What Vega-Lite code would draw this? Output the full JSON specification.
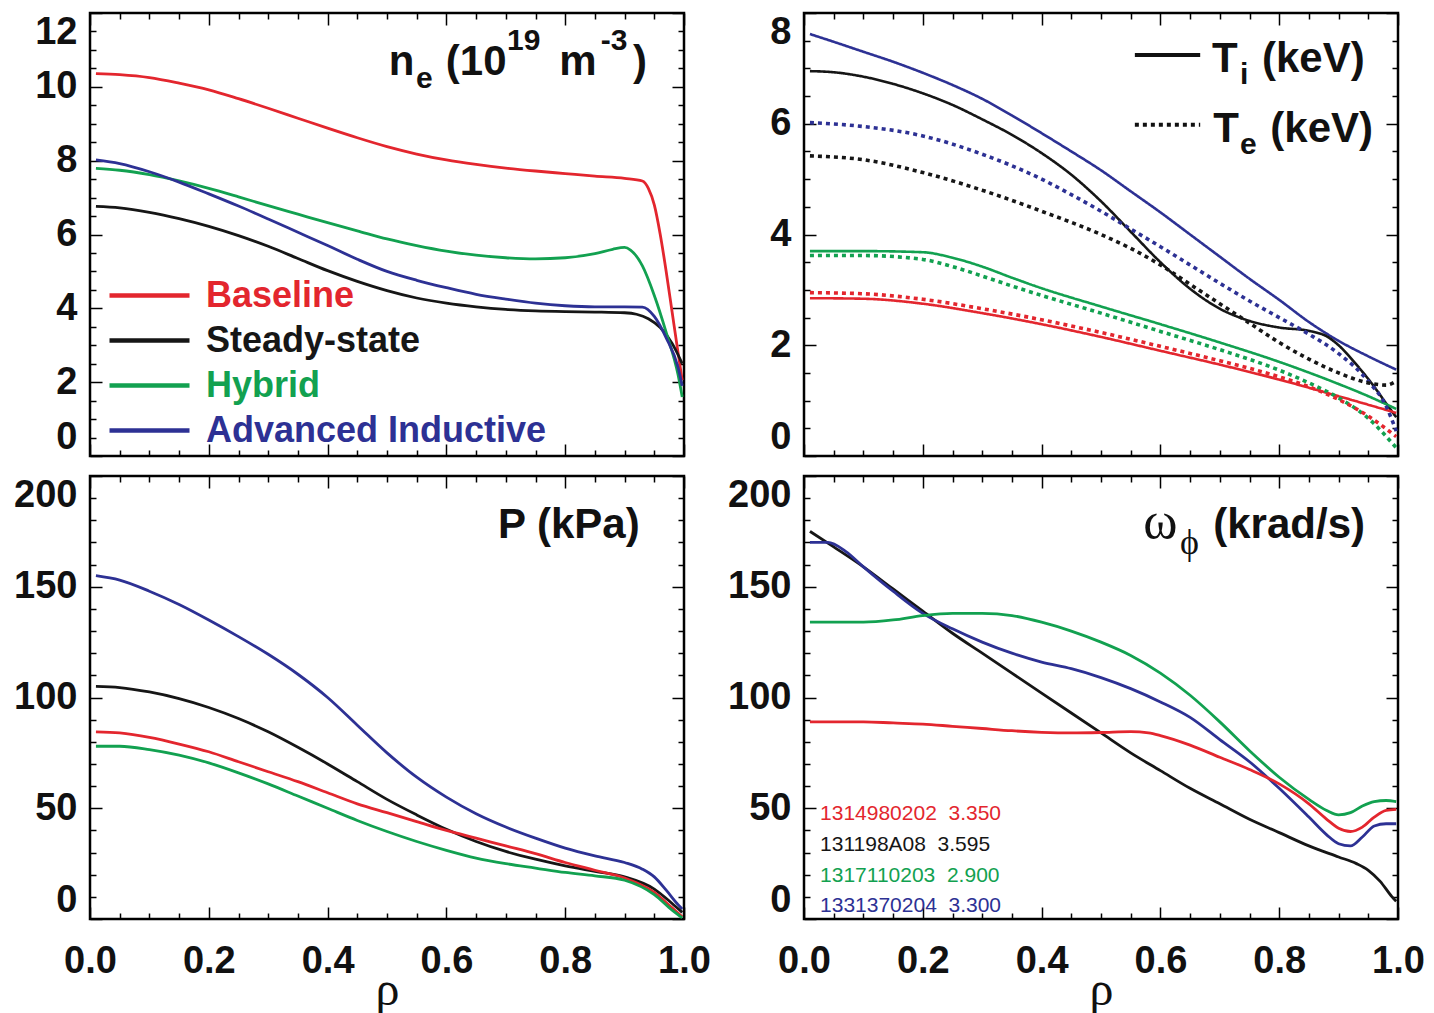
{
"$schema": "https://vega.github.io/schema/vega-lite/v6.json",
"background": "white",
"padding": {"left": 12, "top": 11, "right": 5, "bottom": 0},
"columns": 2,
"spacing": {"row": 16, "column": 14},
"resolve": {"legend": {"color": "independent"}},
"config": {
  "view": {"stroke": "#000", "strokeWidth": 2.5},
  "axis": {"domain": false, "grid": false, "tickColor": "#000", "tickWidth": 1.5, "labelFont": "Liberation Sans, Arial, sans-serif", "labelFontSize": 38, "labelFontWeight": "bold", "labelColor": "#111", "labelOverlap": false, "labelBound": false}
},
"concat": [
{
  "width": 594, "height": 443,
  "resolve": {"axis": {"x": "independent", "y": "independent"}},
  "layer": [
    {
      "data": {"values": [
        {"rho":0.01,"ne":10.36,"s":"Baseline"},{"rho":0.05,"ne":10.33,"s":"Baseline"},{"rho":0.1,"ne":10.25,"s":"Baseline"},{"rho":0.15,"ne":10.1,"s":"Baseline"},{"rho":0.2,"ne":9.92,"s":"Baseline"},{"rho":0.25,"ne":9.68,"s":"Baseline"},{"rho":0.3,"ne":9.42,"s":"Baseline"},{"rho":0.35,"ne":9.15,"s":"Baseline"},{"rho":0.4,"ne":8.88,"s":"Baseline"},{"rho":0.45,"ne":8.62,"s":"Baseline"},{"rho":0.5,"ne":8.38,"s":"Baseline"},{"rho":0.55,"ne":8.18,"s":"Baseline"},{"rho":0.6,"ne":8.02,"s":"Baseline"},{"rho":0.65,"ne":7.9,"s":"Baseline"},{"rho":0.7,"ne":7.8,"s":"Baseline"},{"rho":0.75,"ne":7.72,"s":"Baseline"},{"rho":0.8,"ne":7.65,"s":"Baseline"},{"rho":0.85,"ne":7.58,"s":"Baseline"},{"rho":0.9,"ne":7.52,"s":"Baseline"},{"rho":0.93,"ne":7.45,"s":"Baseline"},{"rho":0.94,"ne":7.25,"s":"Baseline"},{"rho":0.95,"ne":6.8,"s":"Baseline"},{"rho":0.96,"ne":6.0,"s":"Baseline"},{"rho":0.97,"ne":5.0,"s":"Baseline"},{"rho":0.98,"ne":3.9,"s":"Baseline"},{"rho":0.99,"ne":2.8,"s":"Baseline"},{"rho":0.997,"ne":2.05,"s":"Baseline"},
        {"rho":0.01,"ne":6.76,"s":"Steady-state"},{"rho":0.05,"ne":6.72,"s":"Steady-state"},{"rho":0.1,"ne":6.6,"s":"Steady-state"},{"rho":0.15,"ne":6.43,"s":"Steady-state"},{"rho":0.2,"ne":6.22,"s":"Steady-state"},{"rho":0.25,"ne":5.97,"s":"Steady-state"},{"rho":0.3,"ne":5.68,"s":"Steady-state"},{"rho":0.35,"ne":5.35,"s":"Steady-state"},{"rho":0.4,"ne":5.02,"s":"Steady-state"},{"rho":0.45,"ne":4.73,"s":"Steady-state"},{"rho":0.5,"ne":4.48,"s":"Steady-state"},{"rho":0.55,"ne":4.28,"s":"Steady-state"},{"rho":0.6,"ne":4.14,"s":"Steady-state"},{"rho":0.65,"ne":4.04,"s":"Steady-state"},{"rho":0.7,"ne":3.97,"s":"Steady-state"},{"rho":0.75,"ne":3.93,"s":"Steady-state"},{"rho":0.8,"ne":3.91,"s":"Steady-state"},{"rho":0.85,"ne":3.9,"s":"Steady-state"},{"rho":0.9,"ne":3.88,"s":"Steady-state"},{"rho":0.92,"ne":3.84,"s":"Steady-state"},{"rho":0.94,"ne":3.72,"s":"Steady-state"},{"rho":0.96,"ne":3.48,"s":"Steady-state"},{"rho":0.98,"ne":3.05,"s":"Steady-state"},{"rho":0.997,"ne":2.5,"s":"Steady-state"},
        {"rho":0.01,"ne":7.79,"s":"Hybrid"},{"rho":0.05,"ne":7.74,"s":"Hybrid"},{"rho":0.1,"ne":7.62,"s":"Hybrid"},{"rho":0.15,"ne":7.45,"s":"Hybrid"},{"rho":0.2,"ne":7.25,"s":"Hybrid"},{"rho":0.25,"ne":7.02,"s":"Hybrid"},{"rho":0.3,"ne":6.78,"s":"Hybrid"},{"rho":0.35,"ne":6.55,"s":"Hybrid"},{"rho":0.4,"ne":6.32,"s":"Hybrid"},{"rho":0.45,"ne":6.1,"s":"Hybrid"},{"rho":0.5,"ne":5.88,"s":"Hybrid"},{"rho":0.55,"ne":5.7,"s":"Hybrid"},{"rho":0.6,"ne":5.55,"s":"Hybrid"},{"rho":0.65,"ne":5.44,"s":"Hybrid"},{"rho":0.7,"ne":5.37,"s":"Hybrid"},{"rho":0.75,"ne":5.34,"s":"Hybrid"},{"rho":0.8,"ne":5.37,"s":"Hybrid"},{"rho":0.85,"ne":5.48,"s":"Hybrid"},{"rho":0.88,"ne":5.6,"s":"Hybrid"},{"rho":0.9,"ne":5.65,"s":"Hybrid"},{"rho":0.91,"ne":5.58,"s":"Hybrid"},{"rho":0.93,"ne":5.15,"s":"Hybrid"},{"rho":0.95,"ne":4.35,"s":"Hybrid"},{"rho":0.97,"ne":3.35,"s":"Hybrid"},{"rho":0.99,"ne":2.2,"s":"Hybrid"},{"rho":0.997,"ne":1.6,"s":"Hybrid"},
        {"rho":0.01,"ne":8.02,"s":"Advanced Inductive"},{"rho":0.05,"ne":7.92,"s":"Advanced Inductive"},{"rho":0.1,"ne":7.7,"s":"Advanced Inductive"},{"rho":0.15,"ne":7.42,"s":"Advanced Inductive"},{"rho":0.2,"ne":7.1,"s":"Advanced Inductive"},{"rho":0.25,"ne":6.77,"s":"Advanced Inductive"},{"rho":0.3,"ne":6.42,"s":"Advanced Inductive"},{"rho":0.35,"ne":6.06,"s":"Advanced Inductive"},{"rho":0.4,"ne":5.7,"s":"Advanced Inductive"},{"rho":0.45,"ne":5.33,"s":"Advanced Inductive"},{"rho":0.5,"ne":5.0,"s":"Advanced Inductive"},{"rho":0.55,"ne":4.76,"s":"Advanced Inductive"},{"rho":0.6,"ne":4.56,"s":"Advanced Inductive"},{"rho":0.65,"ne":4.38,"s":"Advanced Inductive"},{"rho":0.7,"ne":4.25,"s":"Advanced Inductive"},{"rho":0.75,"ne":4.14,"s":"Advanced Inductive"},{"rho":0.8,"ne":4.07,"s":"Advanced Inductive"},{"rho":0.85,"ne":4.04,"s":"Advanced Inductive"},{"rho":0.9,"ne":4.04,"s":"Advanced Inductive"},{"rho":0.93,"ne":4.03,"s":"Advanced Inductive"},{"rho":0.95,"ne":3.78,"s":"Advanced Inductive"},{"rho":0.97,"ne":3.2,"s":"Advanced Inductive"},{"rho":0.99,"ne":2.4,"s":"Advanced Inductive"},{"rho":0.997,"ne":1.9,"s":"Advanced Inductive"}
      ]},
      "mark": {"type": "line", "interpolate": "monotone", "strokeWidth": 2.8},
      "encoding": {
        "x": {"field": "rho", "type": "quantitative", "scale": {"domain": [0, 1], "nice": false, "zero": false},
              "axis": {"orient": "bottom", "values": [0,0.05,0.1,0.15,0.2,0.25,0.3,0.35,0.4,0.45,0.5,0.55,0.6,0.65,0.7,0.75,0.8,0.85,0.9,0.95,1], "labels": false, "title": null,
                       "tickSize": {"condition": {"test": "abs(datum.value*5-round(datum.value*5))<0.001", "value": -12}, "value": -6}}},
        "y": {"field": "ne", "type": "quantitative", "scale": {"domain": [0, 12], "nice": false},
              "axis": {"orient": "left", "values": [0,0.5,1,1.5,2,2.5,3,3.5,4,4.5,5,5.5,6,6.5,7,7.5,8,8.5,9,9.5,10,10.5,11,11.5,12], "title": null, "labelFlush": true, "labelPadding": 25,
                       "labelExpr": "datum.value % 2 === 0 ? format(datum.value, 'd') : ''",
                       "tickSize": {"condition": {"test": "datum.value % 2 === 0", "value": -12}, "value": -6}}},
        "color": {"field": "s", "type": "nominal",
                  "scale": {"domain": ["Baseline", "Steady-state", "Hybrid", "Advanced Inductive"], "range": ["#e3262e", "#161616", "#12a150", "#2d3194"]},
                  "legend": {"orient": "none", "legendX": 37, "legendY": 260, "title": null, "padding": 0,
                             "symbolType": "M-2,0H2", "symbolSize": 1600, "symbolStrokeWidth": 4.5,
                             "labelFont": "Liberation Sans, Arial, sans-serif", "labelFontSize": 36, "labelFontWeight": "bold",
                             "labelOffset": 34, "rowPadding": 4, "labelLimit": 600,
                             "labelColor": {"expr": "datum.value === 'Baseline' ? '#e3262e' : datum.value === 'Hybrid' ? '#12a150' : datum.value === 'Advanced Inductive' ? '#2d3194' : '#161616'"}}}
      }
    },
    {
      "data": {"values": [{"t": "n", "rho": 0.503, "v": 10.32}, {"t": "(10", "rho": 0.599, "v": 10.32}, {"t": "m", "rho": 0.79, "v": 10.32}, {"t": ")", "rho": 0.914, "v": 10.32}]},
      "mark": {"type": "text", "align": "left", "baseline": "alphabetic", "font": "Liberation Sans, Arial, sans-serif", "fontSize": 42, "fontWeight": "bold", "color": "#111"},
      "encoding": {
        "x": {"field": "rho", "type": "quantitative", "scale": {"domain": [0, 1], "nice": false, "zero": false},
              "axis": {"orient": "top", "values": [0,0.05,0.1,0.15,0.2,0.25,0.3,0.35,0.4,0.45,0.5,0.55,0.6,0.65,0.7,0.75,0.8,0.85,0.9,0.95,1], "labels": false, "title": null,
                       "tickSize": {"condition": {"test": "abs(datum.value*5-round(datum.value*5))<0.001", "value": -12}, "value": -6}}},
        "y": {"field": "v", "type": "quantitative", "scale": {"domain": [0, 12], "nice": false},
              "axis": {"orient": "right", "values": [0,0.5,1,1.5,2,2.5,3,3.5,4,4.5,5,5.5,6,6.5,7,7.5,8,8.5,9,9.5,10,10.5,11,11.5,12], "labels": false, "title": null,
                       "tickSize": {"condition": {"test": "datum.value % 2 === 0", "value": -12}, "value": -6}}},
        "text": {"field": "t"}
      }
    },
    {
      "data": {"values": [{"t": "e", "rho": 0.549, "v": 9.97}]},
      "mark": {"type": "text", "align": "left", "baseline": "alphabetic", "font": "Liberation Sans, Arial, sans-serif", "fontSize": 30, "fontWeight": "bold", "color": "#111"},
      "encoding": {
        "x": {"field": "rho", "type": "quantitative", "scale": {"domain": [0, 1], "nice": false, "zero": false}, "axis": null},
        "y": {"field": "v", "type": "quantitative", "scale": {"domain": [0, 12], "nice": false}, "axis": null},
        "text": {"field": "t"}
      }
    },
    {
      "data": {"values": [{"t": "19", "rho": 0.702, "v": 11.0}, {"t": "-3", "rho": 0.86, "v": 11.0}]},
      "mark": {"type": "text", "align": "left", "baseline": "alphabetic", "font": "Liberation Sans, Arial, sans-serif", "fontSize": 30, "fontWeight": "bold", "color": "#111"},
      "encoding": {
        "x": {"field": "rho", "type": "quantitative", "scale": {"domain": [0, 1], "nice": false, "zero": false}, "axis": null},
        "y": {"field": "v", "type": "quantitative", "scale": {"domain": [0, 12], "nice": false}, "axis": null},
        "text": {"field": "t"}
      }
    }
  ]
},
{
  "width": 594, "height": 443,
  "resolve": {"axis": {"x": "independent", "y": "independent"}},
  "layer": [
    {
      "data": {"values": [
        {"rho":0.01,"T":7.62,"s":"Advanced Inductive","k":"Ti"},{"rho":0.05,"T":7.48,"s":"Advanced Inductive","k":"Ti"},{"rho":0.1,"T":7.3,"s":"Advanced Inductive","k":"Ti"},{"rho":0.15,"T":7.12,"s":"Advanced Inductive","k":"Ti"},{"rho":0.2,"T":6.92,"s":"Advanced Inductive","k":"Ti"},{"rho":0.25,"T":6.7,"s":"Advanced Inductive","k":"Ti"},{"rho":0.3,"T":6.45,"s":"Advanced Inductive","k":"Ti"},{"rho":0.35,"T":6.15,"s":"Advanced Inductive","k":"Ti"},{"rho":0.4,"T":5.83,"s":"Advanced Inductive","k":"Ti"},{"rho":0.45,"T":5.5,"s":"Advanced Inductive","k":"Ti"},{"rho":0.5,"T":5.16,"s":"Advanced Inductive","k":"Ti"},{"rho":0.55,"T":4.78,"s":"Advanced Inductive","k":"Ti"},{"rho":0.6,"T":4.4,"s":"Advanced Inductive","k":"Ti"},{"rho":0.65,"T":4.0,"s":"Advanced Inductive","k":"Ti"},{"rho":0.7,"T":3.6,"s":"Advanced Inductive","k":"Ti"},{"rho":0.75,"T":3.2,"s":"Advanced Inductive","k":"Ti"},{"rho":0.8,"T":2.82,"s":"Advanced Inductive","k":"Ti"},{"rho":0.85,"T":2.42,"s":"Advanced Inductive","k":"Ti"},{"rho":0.9,"T":2.08,"s":"Advanced Inductive","k":"Ti"},{"rho":0.95,"T":1.8,"s":"Advanced Inductive","k":"Ti"},{"rho":0.997,"T":1.56,"s":"Advanced Inductive","k":"Ti"},
        {"rho":0.01,"T":6.95,"s":"Steady-state","k":"Ti"},{"rho":0.05,"T":6.93,"s":"Steady-state","k":"Ti"},{"rho":0.1,"T":6.85,"s":"Steady-state","k":"Ti"},{"rho":0.15,"T":6.72,"s":"Steady-state","k":"Ti"},{"rho":0.2,"T":6.55,"s":"Steady-state","k":"Ti"},{"rho":0.25,"T":6.34,"s":"Steady-state","k":"Ti"},{"rho":0.3,"T":6.08,"s":"Steady-state","k":"Ti"},{"rho":0.35,"T":5.8,"s":"Steady-state","k":"Ti"},{"rho":0.4,"T":5.47,"s":"Steady-state","k":"Ti"},{"rho":0.45,"T":5.08,"s":"Steady-state","k":"Ti"},{"rho":0.5,"T":4.6,"s":"Steady-state","k":"Ti"},{"rho":0.55,"T":4.05,"s":"Steady-state","k":"Ti"},{"rho":0.6,"T":3.5,"s":"Steady-state","k":"Ti"},{"rho":0.65,"T":3.02,"s":"Steady-state","k":"Ti"},{"rho":0.7,"T":2.66,"s":"Steady-state","k":"Ti"},{"rho":0.75,"T":2.44,"s":"Steady-state","k":"Ti"},{"rho":0.8,"T":2.32,"s":"Steady-state","k":"Ti"},{"rho":0.85,"T":2.26,"s":"Steady-state","k":"Ti"},{"rho":0.88,"T":2.16,"s":"Steady-state","k":"Ti"},{"rho":0.9,"T":2.0,"s":"Steady-state","k":"Ti"},{"rho":0.93,"T":1.65,"s":"Steady-state","k":"Ti"},{"rho":0.96,"T":1.25,"s":"Steady-state","k":"Ti"},{"rho":0.98,"T":0.95,"s":"Steady-state","k":"Ti"},{"rho":0.997,"T":0.7,"s":"Steady-state","k":"Ti"},
        {"rho":0.01,"T":3.7,"s":"Hybrid","k":"Ti"},{"rho":0.1,"T":3.7,"s":"Hybrid","k":"Ti"},{"rho":0.2,"T":3.68,"s":"Hybrid","k":"Ti"},{"rho":0.25,"T":3.58,"s":"Hybrid","k":"Ti"},{"rho":0.3,"T":3.42,"s":"Hybrid","k":"Ti"},{"rho":0.35,"T":3.22,"s":"Hybrid","k":"Ti"},{"rho":0.4,"T":3.03,"s":"Hybrid","k":"Ti"},{"rho":0.5,"T":2.7,"s":"Hybrid","k":"Ti"},{"rho":0.6,"T":2.38,"s":"Hybrid","k":"Ti"},{"rho":0.7,"T":2.05,"s":"Hybrid","k":"Ti"},{"rho":0.8,"T":1.7,"s":"Hybrid","k":"Ti"},{"rho":0.9,"T":1.3,"s":"Hybrid","k":"Ti"},{"rho":0.95,"T":1.08,"s":"Hybrid","k":"Ti"},{"rho":0.997,"T":0.85,"s":"Hybrid","k":"Ti"},
        {"rho":0.01,"T":2.85,"s":"Baseline","k":"Ti"},{"rho":0.1,"T":2.84,"s":"Baseline","k":"Ti"},{"rho":0.2,"T":2.75,"s":"Baseline","k":"Ti"},{"rho":0.3,"T":2.58,"s":"Baseline","k":"Ti"},{"rho":0.4,"T":2.38,"s":"Baseline","k":"Ti"},{"rho":0.5,"T":2.15,"s":"Baseline","k":"Ti"},{"rho":0.6,"T":1.9,"s":"Baseline","k":"Ti"},{"rho":0.7,"T":1.65,"s":"Baseline","k":"Ti"},{"rho":0.8,"T":1.38,"s":"Baseline","k":"Ti"},{"rho":0.9,"T":1.08,"s":"Baseline","k":"Ti"},{"rho":0.997,"T":0.78,"s":"Baseline","k":"Ti"},
        {"rho":0.01,"T":6.02,"s":"Advanced Inductive","k":"Te"},{"rho":0.1,"T":5.95,"s":"Advanced Inductive","k":"Te"},{"rho":0.2,"T":5.78,"s":"Advanced Inductive","k":"Te"},{"rho":0.3,"T":5.45,"s":"Advanced Inductive","k":"Te"},{"rho":0.4,"T":5.0,"s":"Advanced Inductive","k":"Te"},{"rho":0.45,"T":4.72,"s":"Advanced Inductive","k":"Te"},{"rho":0.5,"T":4.42,"s":"Advanced Inductive","k":"Te"},{"rho":0.55,"T":4.1,"s":"Advanced Inductive","k":"Te"},{"rho":0.6,"T":3.78,"s":"Advanced Inductive","k":"Te"},{"rho":0.65,"T":3.45,"s":"Advanced Inductive","k":"Te"},{"rho":0.7,"T":3.12,"s":"Advanced Inductive","k":"Te"},{"rho":0.75,"T":2.8,"s":"Advanced Inductive","k":"Te"},{"rho":0.8,"T":2.5,"s":"Advanced Inductive","k":"Te"},{"rho":0.85,"T":2.2,"s":"Advanced Inductive","k":"Te"},{"rho":0.9,"T":1.85,"s":"Advanced Inductive","k":"Te"},{"rho":0.95,"T":1.35,"s":"Advanced Inductive","k":"Te"},{"rho":0.98,"T":0.9,"s":"Advanced Inductive","k":"Te"},{"rho":0.997,"T":0.45,"s":"Advanced Inductive","k":"Te"},
        {"rho":0.01,"T":5.42,"s":"Steady-state","k":"Te"},{"rho":0.1,"T":5.35,"s":"Steady-state","k":"Te"},{"rho":0.2,"T":5.12,"s":"Steady-state","k":"Te"},{"rho":0.3,"T":4.8,"s":"Steady-state","k":"Te"},{"rho":0.4,"T":4.42,"s":"Steady-state","k":"Te"},{"rho":0.5,"T":4.0,"s":"Steady-state","k":"Te"},{"rho":0.55,"T":3.75,"s":"Steady-state","k":"Te"},{"rho":0.6,"T":3.45,"s":"Steady-state","k":"Te"},{"rho":0.65,"T":3.1,"s":"Steady-state","k":"Te"},{"rho":0.7,"T":2.75,"s":"Steady-state","k":"Te"},{"rho":0.75,"T":2.4,"s":"Steady-state","k":"Te"},{"rho":0.8,"T":2.05,"s":"Steady-state","k":"Te"},{"rho":0.85,"T":1.75,"s":"Steady-state","k":"Te"},{"rho":0.9,"T":1.5,"s":"Steady-state","k":"Te"},{"rho":0.95,"T":1.32,"s":"Steady-state","k":"Te"},{"rho":0.98,"T":1.28,"s":"Steady-state","k":"Te"},{"rho":0.997,"T":1.35,"s":"Steady-state","k":"Te"},
        {"rho":0.01,"T":3.62,"s":"Hybrid","k":"Te"},{"rho":0.1,"T":3.62,"s":"Hybrid","k":"Te"},{"rho":0.2,"T":3.55,"s":"Hybrid","k":"Te"},{"rho":0.25,"T":3.42,"s":"Hybrid","k":"Te"},{"rho":0.3,"T":3.25,"s":"Hybrid","k":"Te"},{"rho":0.35,"T":3.07,"s":"Hybrid","k":"Te"},{"rho":0.4,"T":2.9,"s":"Hybrid","k":"Te"},{"rho":0.5,"T":2.58,"s":"Hybrid","k":"Te"},{"rho":0.6,"T":2.25,"s":"Hybrid","k":"Te"},{"rho":0.7,"T":1.92,"s":"Hybrid","k":"Te"},{"rho":0.8,"T":1.55,"s":"Hybrid","k":"Te"},{"rho":0.85,"T":1.32,"s":"Hybrid","k":"Te"},{"rho":0.9,"T":1.05,"s":"Hybrid","k":"Te"},{"rho":0.95,"T":0.68,"s":"Hybrid","k":"Te"},{"rho":0.997,"T":0.15,"s":"Hybrid","k":"Te"},
        {"rho":0.01,"T":2.95,"s":"Baseline","k":"Te"},{"rho":0.1,"T":2.93,"s":"Baseline","k":"Te"},{"rho":0.2,"T":2.83,"s":"Baseline","k":"Te"},{"rho":0.3,"T":2.66,"s":"Baseline","k":"Te"},{"rho":0.4,"T":2.46,"s":"Baseline","k":"Te"},{"rho":0.5,"T":2.23,"s":"Baseline","k":"Te"},{"rho":0.6,"T":1.98,"s":"Baseline","k":"Te"},{"rho":0.7,"T":1.72,"s":"Baseline","k":"Te"},{"rho":0.8,"T":1.43,"s":"Baseline","k":"Te"},{"rho":0.85,"T":1.25,"s":"Baseline","k":"Te"},{"rho":0.9,"T":1.02,"s":"Baseline","k":"Te"},{"rho":0.95,"T":0.72,"s":"Baseline","k":"Te"},{"rho":0.997,"T":0.35,"s":"Baseline","k":"Te"}
      ]},
      "mark": {"type": "line", "interpolate": "monotone"},
      "encoding": {
        "x": {"field": "rho", "type": "quantitative", "scale": {"domain": [0, 1], "nice": false, "zero": false},
              "axis": {"orient": "bottom", "values": [0,0.05,0.1,0.15,0.2,0.25,0.3,0.35,0.4,0.45,0.5,0.55,0.6,0.65,0.7,0.75,0.8,0.85,0.9,0.95,1], "labels": false, "title": null,
                       "tickSize": {"condition": {"test": "abs(datum.value*5-round(datum.value*5))<0.001", "value": -12}, "value": -6}}},
        "y": {"field": "T", "type": "quantitative", "scale": {"domain": [0, 8], "nice": false},
              "axis": {"orient": "left", "values": [0,0.5,1,1.5,2,2.5,3,3.5,4,4.5,5,5.5,6,6.5,7,7.5,8], "title": null, "labelFlush": true, "labelPadding": 25,
                       "labelExpr": "datum.value % 2 === 0 ? format(datum.value, 'd') : ''",
                       "tickSize": {"condition": {"test": "datum.value % 2 === 0", "value": -12}, "value": -6}}},
        "color": {"field": "s", "type": "nominal",
                  "scale": {"domain": ["Baseline", "Steady-state", "Hybrid", "Advanced Inductive"], "range": ["#e3262e", "#161616", "#12a150", "#2d3194"]}, "legend": null},
        "strokeDash": {"field": "k", "type": "nominal", "scale": {"domain": ["Ti", "Te"], "range": [[1, 0], [4, 4]]}, "legend": null},
        "strokeWidth": {"field": "k", "type": "nominal", "scale": {"domain": ["Ti", "Te"], "range": [2.6, 3.6]}, "legend": null}
      }
    },
    {
      "data": {"values": [{"rho": 0.557, "rho2": 0.667, "v": 7.24, "k": "Ti"}, {"rho": 0.557, "rho2": 0.667, "v": 5.98, "k": "Te"}]},
      "mark": {"type": "rule", "color": "#111", "strokeWidth": 4},
      "encoding": {
        "x": {"field": "rho", "type": "quantitative", "scale": {"domain": [0, 1], "nice": false, "zero": false}, "axis": null},
        "x2": {"field": "rho2"},
        "y": {"field": "v", "type": "quantitative", "scale": {"domain": [0, 8], "nice": false}, "axis": null},
        "strokeDash": {"field": "k", "type": "nominal", "scale": {"domain": ["Ti", "Te"], "range": [[1, 0], [4, 4]]}, "legend": null}
      }
    },
    {
      "data": {"values": [{"t": "T", "rho": 0.687, "v": 6.93}, {"t": "(keV)", "rho": 0.771, "v": 6.93}, {"t": "T", "rho": 0.689, "v": 5.67}, {"t": "(keV)", "rho": 0.785, "v": 5.67}]},
      "mark": {"type": "text", "align": "left", "baseline": "alphabetic", "font": "Liberation Sans, Arial, sans-serif", "fontSize": 42, "fontWeight": "bold", "color": "#111"},
      "encoding": {
        "x": {"field": "rho", "type": "quantitative", "scale": {"domain": [0, 1], "nice": false, "zero": false},
              "axis": {"orient": "top", "values": [0,0.05,0.1,0.15,0.2,0.25,0.3,0.35,0.4,0.45,0.5,0.55,0.6,0.65,0.7,0.75,0.8,0.85,0.9,0.95,1], "labels": false, "title": null,
                       "tickSize": {"condition": {"test": "abs(datum.value*5-round(datum.value*5))<0.001", "value": -12}, "value": -6}}},
        "y": {"field": "v", "type": "quantitative", "scale": {"domain": [0, 8], "nice": false},
              "axis": {"orient": "right", "values": [0,0.5,1,1.5,2,2.5,3,3.5,4,4.5,5,5.5,6,6.5,7,7.5,8], "labels": false, "title": null,
                       "tickSize": {"condition": {"test": "datum.value % 2 === 0", "value": -12}, "value": -6}}},
        "text": {"field": "t"}
      }
    },
    {
      "data": {"values": [{"t": "i", "rho": 0.734, "v": 6.72}, {"t": "e", "rho": 0.734, "v": 5.46}]},
      "mark": {"type": "text", "align": "left", "baseline": "alphabetic", "font": "Liberation Sans, Arial, sans-serif", "fontSize": 30, "fontWeight": "bold", "color": "#111"},
      "encoding": {
        "x": {"field": "rho", "type": "quantitative", "scale": {"domain": [0, 1], "nice": false, "zero": false}, "axis": null},
        "y": {"field": "v", "type": "quantitative", "scale": {"domain": [0, 8], "nice": false}, "axis": null},
        "text": {"field": "t"}
      }
    }
  ]
},
{
  "width": 594, "height": 443,
  "resolve": {"axis": {"x": "independent", "y": "independent"}},
  "layer": [
    {
      "data": {"values": [
        {"rho":0.01,"P":155,"s":"Advanced Inductive"},{"rho":0.05,"P":153,"s":"Advanced Inductive"},{"rho":0.1,"P":148,"s":"Advanced Inductive"},{"rho":0.15,"P":142,"s":"Advanced Inductive"},{"rho":0.2,"P":135,"s":"Advanced Inductive"},{"rho":0.25,"P":127.5,"s":"Advanced Inductive"},{"rho":0.3,"P":119.5,"s":"Advanced Inductive"},{"rho":0.35,"P":110.5,"s":"Advanced Inductive"},{"rho":0.4,"P":100,"s":"Advanced Inductive"},{"rho":0.45,"P":87.5,"s":"Advanced Inductive"},{"rho":0.5,"P":75,"s":"Advanced Inductive"},{"rho":0.55,"P":64,"s":"Advanced Inductive"},{"rho":0.6,"P":55,"s":"Advanced Inductive"},{"rho":0.65,"P":47.5,"s":"Advanced Inductive"},{"rho":0.7,"P":41.5,"s":"Advanced Inductive"},{"rho":0.75,"P":36.5,"s":"Advanced Inductive"},{"rho":0.8,"P":32,"s":"Advanced Inductive"},{"rho":0.85,"P":28.5,"s":"Advanced Inductive"},{"rho":0.9,"P":25.5,"s":"Advanced Inductive"},{"rho":0.93,"P":22.5,"s":"Advanced Inductive"},{"rho":0.95,"P":19,"s":"Advanced Inductive"},{"rho":0.97,"P":13,"s":"Advanced Inductive"},{"rho":0.99,"P":6.5,"s":"Advanced Inductive"},{"rho":0.997,"P":4.5,"s":"Advanced Inductive"},
        {"rho":0.01,"P":105,"s":"Steady-state"},{"rho":0.05,"P":104.5,"s":"Steady-state"},{"rho":0.1,"P":102.5,"s":"Steady-state"},{"rho":0.15,"P":99.5,"s":"Steady-state"},{"rho":0.2,"P":95.5,"s":"Steady-state"},{"rho":0.25,"P":90.5,"s":"Steady-state"},{"rho":0.3,"P":84.5,"s":"Steady-state"},{"rho":0.35,"P":77.5,"s":"Steady-state"},{"rho":0.4,"P":70,"s":"Steady-state"},{"rho":0.45,"P":62,"s":"Steady-state"},{"rho":0.5,"P":54,"s":"Steady-state"},{"rho":0.55,"P":47,"s":"Steady-state"},{"rho":0.6,"P":40.5,"s":"Steady-state"},{"rho":0.65,"P":35,"s":"Steady-state"},{"rho":0.7,"P":30.5,"s":"Steady-state"},{"rho":0.75,"P":27,"s":"Steady-state"},{"rho":0.8,"P":24,"s":"Steady-state"},{"rho":0.85,"P":21.5,"s":"Steady-state"},{"rho":0.9,"P":19,"s":"Steady-state"},{"rho":0.95,"P":13.5,"s":"Steady-state"},{"rho":0.98,"P":7,"s":"Steady-state"},{"rho":0.997,"P":3,"s":"Steady-state"},
        {"rho":0.01,"P":84.5,"s":"Baseline"},{"rho":0.05,"P":84,"s":"Baseline"},{"rho":0.1,"P":82,"s":"Baseline"},{"rho":0.15,"P":79,"s":"Baseline"},{"rho":0.2,"P":75.5,"s":"Baseline"},{"rho":0.25,"P":71,"s":"Baseline"},{"rho":0.3,"P":66.5,"s":"Baseline"},{"rho":0.35,"P":62,"s":"Baseline"},{"rho":0.4,"P":57,"s":"Baseline"},{"rho":0.45,"P":52,"s":"Baseline"},{"rho":0.5,"P":48,"s":"Baseline"},{"rho":0.55,"P":44,"s":"Baseline"},{"rho":0.6,"P":40,"s":"Baseline"},{"rho":0.65,"P":36.5,"s":"Baseline"},{"rho":0.7,"P":33,"s":"Baseline"},{"rho":0.75,"P":29.5,"s":"Baseline"},{"rho":0.8,"P":25.5,"s":"Baseline"},{"rho":0.85,"P":22,"s":"Baseline"},{"rho":0.9,"P":18.5,"s":"Baseline"},{"rho":0.95,"P":12,"s":"Baseline"},{"rho":0.98,"P":5,"s":"Baseline"},{"rho":0.997,"P":1,"s":"Baseline"},
        {"rho":0.01,"P":78,"s":"Hybrid"},{"rho":0.05,"P":78,"s":"Hybrid"},{"rho":0.1,"P":76.5,"s":"Hybrid"},{"rho":0.15,"P":74,"s":"Hybrid"},{"rho":0.2,"P":70.5,"s":"Hybrid"},{"rho":0.25,"P":66,"s":"Hybrid"},{"rho":0.3,"P":61,"s":"Hybrid"},{"rho":0.35,"P":55.5,"s":"Hybrid"},{"rho":0.4,"P":50,"s":"Hybrid"},{"rho":0.45,"P":44.5,"s":"Hybrid"},{"rho":0.5,"P":39.5,"s":"Hybrid"},{"rho":0.55,"P":35,"s":"Hybrid"},{"rho":0.6,"P":31,"s":"Hybrid"},{"rho":0.65,"P":27.5,"s":"Hybrid"},{"rho":0.7,"P":25,"s":"Hybrid"},{"rho":0.75,"P":23,"s":"Hybrid"},{"rho":0.8,"P":21,"s":"Hybrid"},{"rho":0.85,"P":19.5,"s":"Hybrid"},{"rho":0.9,"P":17.5,"s":"Hybrid"},{"rho":0.95,"P":11,"s":"Hybrid"},{"rho":0.98,"P":4,"s":"Hybrid"},{"rho":0.997,"P":0.5,"s":"Hybrid"}
      ]},
      "mark": {"type": "line", "interpolate": "monotone", "strokeWidth": 2.8},
      "encoding": {
        "x": {"field": "rho", "type": "quantitative", "scale": {"domain": [0, 1], "nice": false, "zero": false},
              "axis": {"orient": "bottom", "values": [0,0.05,0.1,0.15,0.2,0.25,0.3,0.35,0.4,0.45,0.5,0.55,0.6,0.65,0.7,0.75,0.8,0.85,0.9,0.95,1],
                       "labelExpr": "abs(datum.value*5-round(datum.value*5))<0.001 ? format(datum.value, '.1f') : ''", "labelFlush": false, "labelPadding": 35,
                       "tickSize": {"condition": {"test": "abs(datum.value*5-round(datum.value*5))<0.001", "value": -12}, "value": -6},
                       "title": "ρ", "titleFont": "Liberation Serif, DejaVu Serif, serif", "titleFontSize": 48, "titleFontWeight": "normal", "titleColor": "#111", "titleBaseline": "alphabetic", "titlePadding": 18}},
        "y": {"field": "P", "type": "quantitative", "scale": {"domain": [0, 200], "nice": false},
              "axis": {"orient": "left", "values": [0,10,20,30,40,50,60,70,80,90,100,110,120,130,140,150,160,170,180,190,200], "title": null, "labelFlush": true, "labelPadding": 25,
                       "labelExpr": "datum.value % 50 === 0 ? format(datum.value, 'd') : ''",
                       "tickSize": {"condition": {"test": "datum.value % 50 === 0", "value": -12}, "value": -6}}},
        "color": {"field": "s", "type": "nominal",
                  "scale": {"domain": ["Baseline", "Steady-state", "Hybrid", "Advanced Inductive"], "range": ["#e3262e", "#161616", "#12a150", "#2d3194"]}, "legend": null}
      }
    },
    {
      "data": {"values": [{"t": "P (kPa)", "rho": 0.687, "v": 172}]},
      "mark": {"type": "text", "align": "left", "baseline": "alphabetic", "font": "Liberation Sans, Arial, sans-serif", "fontSize": 42, "fontWeight": "bold", "color": "#111"},
      "encoding": {
        "x": {"field": "rho", "type": "quantitative", "scale": {"domain": [0, 1], "nice": false, "zero": false},
              "axis": {"orient": "top", "values": [0,0.05,0.1,0.15,0.2,0.25,0.3,0.35,0.4,0.45,0.5,0.55,0.6,0.65,0.7,0.75,0.8,0.85,0.9,0.95,1], "labels": false, "title": null,
                       "tickSize": {"condition": {"test": "abs(datum.value*5-round(datum.value*5))<0.001", "value": -12}, "value": -6}}},
        "y": {"field": "v", "type": "quantitative", "scale": {"domain": [0, 200], "nice": false},
              "axis": {"orient": "right", "values": [0,10,20,30,40,50,60,70,80,90,100,110,120,130,140,150,160,170,180,190,200], "labels": false, "title": null,
                       "tickSize": {"condition": {"test": "datum.value % 50 === 0", "value": -12}, "value": -6}}},
        "text": {"field": "t"}
      }
    }
  ]
},
{
  "width": 594, "height": 443,
  "resolve": {"axis": {"x": "independent", "y": "independent"}},
  "layer": [
    {
      "data": {"values": [
        {"rho":0.01,"w":175,"s":"Steady-state"},{"rho":0.05,"w":168,"s":"Steady-state"},{"rho":0.1,"w":159,"s":"Steady-state"},{"rho":0.15,"w":149,"s":"Steady-state"},{"rho":0.2,"w":139,"s":"Steady-state"},{"rho":0.25,"w":129,"s":"Steady-state"},{"rho":0.3,"w":120,"s":"Steady-state"},{"rho":0.35,"w":111,"s":"Steady-state"},{"rho":0.4,"w":102,"s":"Steady-state"},{"rho":0.45,"w":93,"s":"Steady-state"},{"rho":0.5,"w":84,"s":"Steady-state"},{"rho":0.55,"w":75,"s":"Steady-state"},{"rho":0.6,"w":67,"s":"Steady-state"},{"rho":0.65,"w":59,"s":"Steady-state"},{"rho":0.7,"w":52,"s":"Steady-state"},{"rho":0.75,"w":45,"s":"Steady-state"},{"rho":0.8,"w":39,"s":"Steady-state"},{"rho":0.85,"w":33,"s":"Steady-state"},{"rho":0.9,"w":28,"s":"Steady-state"},{"rho":0.93,"w":25,"s":"Steady-state"},{"rho":0.95,"w":22,"s":"Steady-state"},{"rho":0.97,"w":17,"s":"Steady-state"},{"rho":0.99,"w":10,"s":"Steady-state"},{"rho":0.997,"w":8,"s":"Steady-state"},
        {"rho":0.01,"w":170,"s":"Advanced Inductive"},{"rho":0.04,"w":170,"s":"Advanced Inductive"},{"rho":0.07,"w":166,"s":"Advanced Inductive"},{"rho":0.1,"w":159,"s":"Advanced Inductive"},{"rho":0.15,"w":148,"s":"Advanced Inductive"},{"rho":0.2,"w":138,"s":"Advanced Inductive"},{"rho":0.25,"w":131,"s":"Advanced Inductive"},{"rho":0.3,"w":125,"s":"Advanced Inductive"},{"rho":0.35,"w":120,"s":"Advanced Inductive"},{"rho":0.4,"w":116,"s":"Advanced Inductive"},{"rho":0.45,"w":113,"s":"Advanced Inductive"},{"rho":0.5,"w":109,"s":"Advanced Inductive"},{"rho":0.55,"w":104,"s":"Advanced Inductive"},{"rho":0.6,"w":98,"s":"Advanced Inductive"},{"rho":0.65,"w":91,"s":"Advanced Inductive"},{"rho":0.7,"w":81,"s":"Advanced Inductive"},{"rho":0.75,"w":71,"s":"Advanced Inductive"},{"rho":0.8,"w":59,"s":"Advanced Inductive"},{"rho":0.85,"w":46,"s":"Advanced Inductive"},{"rho":0.88,"w":38,"s":"Advanced Inductive"},{"rho":0.9,"w":34,"s":"Advanced Inductive"},{"rho":0.92,"w":33,"s":"Advanced Inductive"},{"rho":0.94,"w":37,"s":"Advanced Inductive"},{"rho":0.96,"w":42,"s":"Advanced Inductive"},{"rho":0.98,"w":43,"s":"Advanced Inductive"},{"rho":0.997,"w":43,"s":"Advanced Inductive"},
        {"rho":0.01,"w":134,"s":"Hybrid"},{"rho":0.1,"w":134,"s":"Hybrid"},{"rho":0.15,"w":135,"s":"Hybrid"},{"rho":0.2,"w":137,"s":"Hybrid"},{"rho":0.25,"w":138,"s":"Hybrid"},{"rho":0.3,"w":138,"s":"Hybrid"},{"rho":0.35,"w":137,"s":"Hybrid"},{"rho":0.4,"w":134,"s":"Hybrid"},{"rho":0.45,"w":130,"s":"Hybrid"},{"rho":0.5,"w":125,"s":"Hybrid"},{"rho":0.55,"w":119,"s":"Hybrid"},{"rho":0.6,"w":111,"s":"Hybrid"},{"rho":0.65,"w":101,"s":"Hybrid"},{"rho":0.7,"w":89,"s":"Hybrid"},{"rho":0.75,"w":76,"s":"Hybrid"},{"rho":0.8,"w":64,"s":"Hybrid"},{"rho":0.85,"w":54,"s":"Hybrid"},{"rho":0.88,"w":49,"s":"Hybrid"},{"rho":0.9,"w":47,"s":"Hybrid"},{"rho":0.92,"w":48,"s":"Hybrid"},{"rho":0.94,"w":51,"s":"Hybrid"},{"rho":0.96,"w":53,"s":"Hybrid"},{"rho":0.98,"w":53.5,"s":"Hybrid"},{"rho":0.997,"w":53,"s":"Hybrid"},
        {"rho":0.01,"w":89,"s":"Baseline"},{"rho":0.1,"w":89,"s":"Baseline"},{"rho":0.15,"w":88.5,"s":"Baseline"},{"rho":0.2,"w":88,"s":"Baseline"},{"rho":0.25,"w":87,"s":"Baseline"},{"rho":0.3,"w":86,"s":"Baseline"},{"rho":0.35,"w":85,"s":"Baseline"},{"rho":0.4,"w":84.3,"s":"Baseline"},{"rho":0.45,"w":84,"s":"Baseline"},{"rho":0.5,"w":84.2,"s":"Baseline"},{"rho":0.55,"w":84.6,"s":"Baseline"},{"rho":0.58,"w":84,"s":"Baseline"},{"rho":0.6,"w":82.8,"s":"Baseline"},{"rho":0.65,"w":78.5,"s":"Baseline"},{"rho":0.7,"w":73,"s":"Baseline"},{"rho":0.75,"w":67.5,"s":"Baseline"},{"rho":0.8,"w":61,"s":"Baseline"},{"rho":0.85,"w":52,"s":"Baseline"},{"rho":0.88,"w":45,"s":"Baseline"},{"rho":0.9,"w":41,"s":"Baseline"},{"rho":0.92,"w":39.5,"s":"Baseline"},{"rho":0.94,"w":41.5,"s":"Baseline"},{"rho":0.96,"w":46,"s":"Baseline"},{"rho":0.98,"w":49,"s":"Baseline"},{"rho":0.997,"w":49.5,"s":"Baseline"}
      ]},
      "mark": {"type": "line", "interpolate": "monotone", "strokeWidth": 2.8},
      "encoding": {
        "x": {"field": "rho", "type": "quantitative", "scale": {"domain": [0, 1], "nice": false, "zero": false},
              "axis": {"orient": "bottom", "values": [0,0.05,0.1,0.15,0.2,0.25,0.3,0.35,0.4,0.45,0.5,0.55,0.6,0.65,0.7,0.75,0.8,0.85,0.9,0.95,1],
                       "labelExpr": "abs(datum.value*5-round(datum.value*5))<0.001 ? format(datum.value, '.1f') : ''", "labelFlush": false, "labelPadding": 35,
                       "tickSize": {"condition": {"test": "abs(datum.value*5-round(datum.value*5))<0.001", "value": -12}, "value": -6},
                       "title": "ρ", "titleFont": "Liberation Serif, DejaVu Serif, serif", "titleFontSize": 48, "titleFontWeight": "normal", "titleColor": "#111", "titleBaseline": "alphabetic", "titlePadding": 18}},
        "y": {"field": "w", "type": "quantitative", "scale": {"domain": [0, 200], "nice": false},
              "axis": {"orient": "left", "values": [0,10,20,30,40,50,60,70,80,90,100,110,120,130,140,150,160,170,180,190,200], "title": null, "labelFlush": true, "labelPadding": 25,
                       "labelExpr": "datum.value % 50 === 0 ? format(datum.value, 'd') : ''",
                       "tickSize": {"condition": {"test": "datum.value % 50 === 0", "value": -12}, "value": -6}}},
        "color": {"field": "s", "type": "nominal",
                  "scale": {"domain": ["Baseline", "Steady-state", "Hybrid", "Advanced Inductive"], "range": ["#e3262e", "#161616", "#12a150", "#2d3194"]}, "legend": null}
      }
    },
    {
      "data": {"values": [{"t": "(krad/s)", "rho": 0.689, "v": 172}]},
      "mark": {"type": "text", "align": "left", "baseline": "alphabetic", "font": "Liberation Sans, Arial, sans-serif", "fontSize": 42, "fontWeight": "bold", "color": "#111"},
      "encoding": {
        "x": {"field": "rho", "type": "quantitative", "scale": {"domain": [0, 1], "nice": false, "zero": false},
              "axis": {"orient": "top", "values": [0,0.05,0.1,0.15,0.2,0.25,0.3,0.35,0.4,0.45,0.5,0.55,0.6,0.65,0.7,0.75,0.8,0.85,0.9,0.95,1], "labels": false, "title": null,
                       "tickSize": {"condition": {"test": "abs(datum.value*5-round(datum.value*5))<0.001", "value": -12}, "value": -6}}},
        "y": {"field": "v", "type": "quantitative", "scale": {"domain": [0, 200], "nice": false},
              "axis": {"orient": "right", "values": [0,10,20,30,40,50,60,70,80,90,100,110,120,130,140,150,160,170,180,190,200], "labels": false, "title": null,
                       "tickSize": {"condition": {"test": "datum.value % 50 === 0", "value": -12}, "value": -6}}},
        "text": {"field": "t"}
      }
    },
    {
      "data": {"values": [{"t": "ω", "rho": 0.571, "v": 172}]},
      "mark": {"type": "text", "align": "left", "baseline": "alphabetic", "font": "Liberation Serif, DejaVu Serif, serif", "fontSize": 52, "color": "#111"},
      "encoding": {
        "x": {"field": "rho", "type": "quantitative", "scale": {"domain": [0, 1], "nice": false, "zero": false}, "axis": null},
        "y": {"field": "v", "type": "quantitative", "scale": {"domain": [0, 200], "nice": false}, "axis": null},
        "text": {"field": "t"}
      }
    },
    {
      "data": {"values": [{"t": "ϕ", "rho": 0.633, "v": 165}]},
      "mark": {"type": "text", "align": "left", "baseline": "alphabetic", "font": "Liberation Serif, DejaVu Serif, serif", "fontSize": 36, "color": "#111"},
      "encoding": {
        "x": {"field": "rho", "type": "quantitative", "scale": {"domain": [0, 1], "nice": false, "zero": false}, "axis": null},
        "y": {"field": "v", "type": "quantitative", "scale": {"domain": [0, 200], "nice": false}, "axis": null},
        "text": {"field": "t"}
      }
    },
    {
      "data": {"values": [
        {"t": "1314980202\u00a0 3.350", "s": "Baseline", "rho": 0.027, "v": 44.8},
        {"t": "131198A08\u00a0 3.595", "s": "Steady-state", "rho": 0.027, "v": 30.8},
        {"t": "1317110203\u00a0 2.900", "s": "Hybrid", "rho": 0.027, "v": 16.7},
        {"t": "1331370204\u00a0 3.300", "s": "Advanced Inductive", "rho": 0.027, "v": 3.2}
      ]},
      "mark": {"type": "text", "align": "left", "baseline": "alphabetic", "font": "Liberation Sans, Arial, sans-serif", "fontSize": 21},
      "encoding": {
        "x": {"field": "rho", "type": "quantitative", "scale": {"domain": [0, 1], "nice": false, "zero": false}, "axis": null},
        "y": {"field": "v", "type": "quantitative", "scale": {"domain": [0, 200], "nice": false}, "axis": null},
        "text": {"field": "t"},
        "color": {"field": "s", "type": "nominal",
                  "scale": {"domain": ["Baseline", "Steady-state", "Hybrid", "Advanced Inductive"], "range": ["#e3262e", "#161616", "#12a150", "#2d3194"]}, "legend": null}
      }
    }
  ]
}
]
}
